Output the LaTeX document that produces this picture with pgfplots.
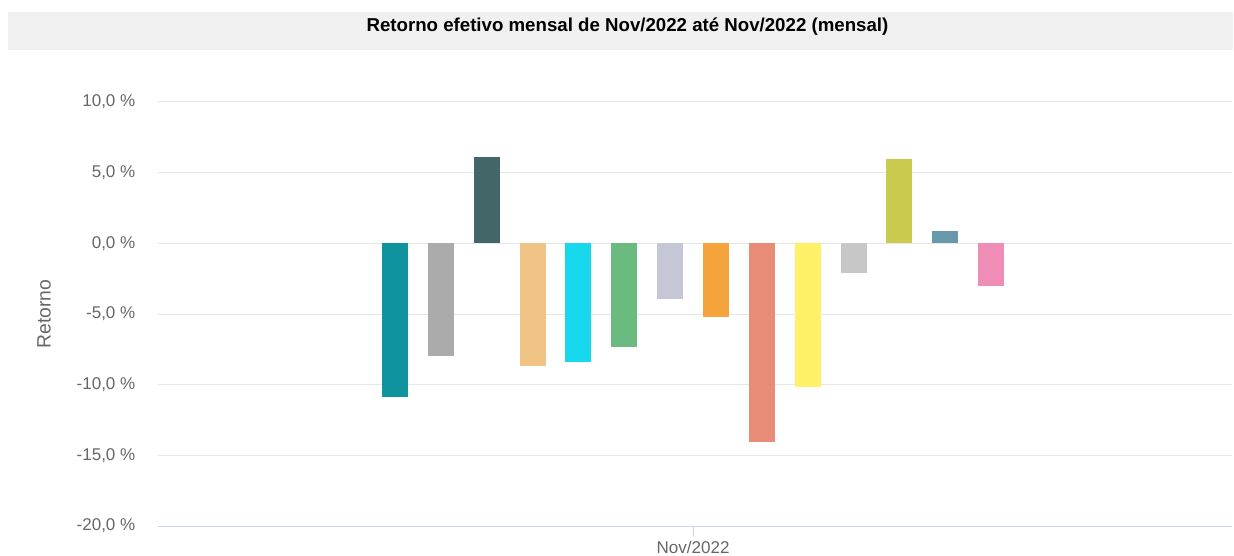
\documentclass[border=0pt]{standalone}
\usepackage{pgfplots}
\pgfplotsset{compat=1.18}
\usepackage{fontspec}
\setmainfont{Liberation Sans}
\definecolor{bandgray}{HTML}{F0F0F0}
\definecolor{gridgray}{HTML}{E6E6E6}
\definecolor{axisblue}{HTML}{CCD6EB}
\definecolor{labelgray}{HTML}{666666}
\definecolor{c1}{HTML}{0E939F}
\definecolor{c2}{HTML}{ABABAB}
\definecolor{c3}{HTML}{436668}
\definecolor{c4}{HTML}{F0C484}
\definecolor{c5}{HTML}{17D8EC}
\definecolor{c6}{HTML}{6BBA80}
\definecolor{c7}{HTML}{C5C7D7}
\definecolor{c8}{HTML}{F5A33B}
\definecolor{c9}{HTML}{E88C78}
\definecolor{c10}{HTML}{FFF167}
\definecolor{c11}{HTML}{C7C7C7}
\definecolor{c12}{HTML}{CACA4E}
\definecolor{c13}{HTML}{6899AA}
\definecolor{c14}{HTML}{EF8DB6}
\begin{document}
\begin{tikzpicture}
\useasboundingbox (0pt,0pt) rectangle (925.5pt,-417pt);
\fill[bandgray] (6pt,-9pt) rectangle (925pt,-37.5pt);
\node[anchor=base, inner sep=0pt, font=\fontsize{14pt}{16pt}\selectfont\bfseries] at (470.6pt,-23.5pt) {Retorno efetivo mensal de Nov/2022 até Nov/2022 (mensal)};
\begin{axis}[
  at={(118.5pt,-394.5pt)}, anchor=south west,
  scale only axis, width=805.5pt, height=318pt,
  xmin=-4.167, xmax=19.25, ymin=-20, ymax=10,
  enlargelimits=false,
  axis x line*=bottom, axis y line*=left,
  x axis line style={-, color=axisblue, line width=0.75pt},
  y axis line style={draw=none},
  xtick={7.5}, xticklabels={Nov/2022},
  ytick={-20,-15,-10,-5,0,5,10},
  yticklabels={{-20,0 \%},{-15,0 \%},{-10,0 \%},{-5,0 \%},{0,0 \%},{5,0 \%},{10,0 \%}},
  tick align=outside,
  xtick style={color=axisblue, line width=0.75pt},
  ytick style={draw=none},
  x tick label style={font=\fontsize{12.75pt}{15pt}\selectfont, text=labelgray},
  y tick label style={font=\fontsize{12.75pt}{15pt}\selectfont, text=labelgray, xshift=-6pt},
  major tick length=7.5pt,
  ymajorgrids, major grid style={color=gridgray, line width=0.75pt},
  ylabel={Retorno},
  ylabel style={at={(axis description cs:-0.106,0.5)}, anchor=center, font=\fontsize{14.5pt}{16pt}\selectfont, text=labelgray},
  every axis plot/.append style={ybar, bar width=19.5pt, bar shift=0pt, draw=none},
]
\addplot[fill=c1] coordinates {(1,-10.84)};
\addplot[fill=c2] coordinates {(2,-8.00)};
\addplot[fill=c3] coordinates {(3,6.10)};
\addplot[fill=c4] coordinates {(4,-8.67)};
\addplot[fill=c5] coordinates {(5,-8.39)};
\addplot[fill=c6] coordinates {(6,-7.33)};
\addplot[fill=c7] coordinates {(7,-3.96)};
\addplot[fill=c8] coordinates {(8,-5.18)};
\addplot[fill=c9] coordinates {(9,-14.04)};
\addplot[fill=c10] coordinates {(10,-10.15)};
\addplot[fill=c11] coordinates {(11,-2.07)};
\addplot[fill=c12] coordinates {(12,5.94)};
\addplot[fill=c13] coordinates {(13,0.85)};
\addplot[fill=c14] coordinates {(14,-3.02)};
\end{axis}
\end{tikzpicture}
\end{document}
